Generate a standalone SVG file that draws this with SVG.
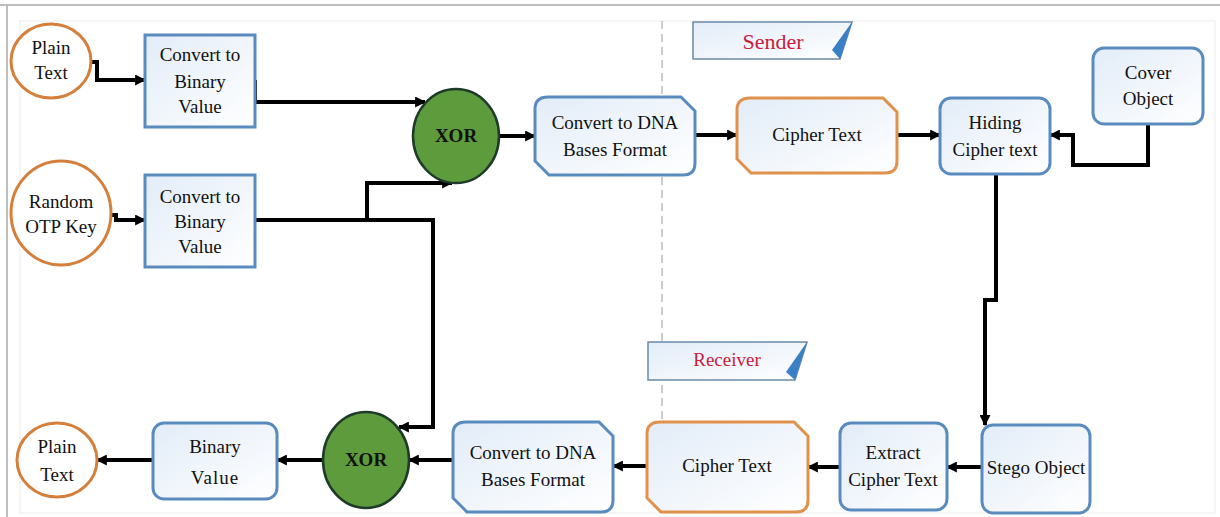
<svg xmlns="http://www.w3.org/2000/svg" width="1220" height="517" viewBox="0 0 1220 517">
<defs>
<linearGradient id="g" x1="0" y1="0" x2="1" y2="1">
<stop offset="0" stop-color="#e2ecf8"/>
<stop offset="1" stop-color="#ffffff"/>
</linearGradient>
<marker id="ah" viewBox="0 0 10 10" refX="9" refY="5" markerWidth="11" markerHeight="11" markerUnits="userSpaceOnUse" orient="auto">
<path d="M0,0 L10,5 L0,10 z" fill="#000"/>
</marker>
<style>
.t{font-family:"Liberation Serif","Times New Roman",serif;font-size:19px;fill:#111;text-anchor:middle}
.b{stroke:#5a8bbf;stroke-width:3;fill:url(#g)}
.bs{stroke:#5a8bbf;stroke-width:3;fill:url(#g)}
.o{stroke:#e0914c;stroke-width:3;fill:url(#g)}
.oc{stroke:#d4803c;stroke-width:3;fill:#fff}
.x{stroke:#1e3a28;stroke-width:2.5;fill:#5e9b3c}
.c{stroke:#000;stroke-width:4;fill:none;marker-end:url(#ah)}
.lab{font-family:"Liberation Serif","Times New Roman",serif;fill:#c8203c;text-anchor:middle}
</style>
</defs>
<rect width="1220" height="517" fill="#fff"/>
<g id="frame">
<line x1="0" y1="5" x2="1220" y2="5" stroke="#bdbdbd" stroke-width="2"/>
<line x1="7" y1="5" x2="7" y2="517" stroke="#bdbdbd" stroke-width="2"/>
<rect x="20" y="21" width="1195" height="492" fill="none" stroke="#ececec" stroke-width="1"/>
<line x1="662" y1="21" x2="662" y2="420" stroke="#9a9a9a" stroke-width="1" stroke-dasharray="8,5"/>
</g>
<g id="sender-label">
<path d="M693,22 H852 L840,59 H693 Z" fill="url(#g)" stroke="#6b8aa8" stroke-width="1.5"/>
<path d="M832,50 L852,22 L840,59 Z" fill="#3a80c6"/>
<text class="lab" x="773" y="49" font-size="22">Sender</text>
</g>
<g id="receiver-label">
<path d="M648,342 H807 L795,380 H648 Z" fill="url(#g)" stroke="#6b8aa8" stroke-width="1.5"/>
<path d="M786,372 L807,342 L795,380 Z" fill="#3a80c6"/>
<text class="lab" x="727" y="366" font-size="19">Receiver</text>
</g>
<g id="connectors">
<path class="c" d="M91,62 H97 V80 H145"/>
<path class="c" d="M111,215 H116 V220 H145"/>
<path class="c" d="M255,80 V102 H425"/>
<path class="c" d="M255,220 H433 V427 H399"/>
<path class="c" d="M367,220 V183 H452"/>
<path class="c" d="M499,136 H535"/>
<path class="c" d="M695,135 H737"/>
<path class="c" d="M897,135 H940"/>
<path class="c" d="M1148,124 V165 H1073 V135 H1050"/>
<path class="c" d="M996,174 V300 H985 V425"/>
<path class="c" d="M982,467 H947"/>
<path class="c" d="M840,467 H808"/>
<path class="c" d="M647,466 H613"/>
<path class="c" d="M453,460 H409"/>
<path class="c" d="M323,460 H277"/>
<path class="c" d="M153,460 H97"/>
</g>
<g id="plain-text-in">
<ellipse class="oc" cx="51" cy="61" rx="40" ry="37"/>
<text class="t" x="51" y="54" font-size="18">Plain</text>
<text class="t" x="51" y="79" font-size="18">Text</text>
</g>
<g id="binary1">
<rect class="b" x="145" y="35" width="110" height="92"/>
<text class="t" x="200" y="61">Convert to</text>
<text class="t" x="200" y="88">Binary</text>
<text class="t" x="200" y="113">Value</text>
</g>
<g id="otp-key">
<ellipse class="oc" cx="61" cy="213" rx="50" ry="52"/>
<text class="t" x="61" y="208">Random</text>
<text class="t" x="61" y="233">OTP Key</text>
</g>
<g id="binary2">
<rect class="b" x="145" y="175" width="110" height="92"/>
<text class="t" x="200" y="203">Convert to</text>
<text class="t" x="200" y="228">Binary</text>
<text class="t" x="200" y="253">Value</text>
</g>
<g id="xor-top">
<ellipse class="x" cx="456" cy="136" rx="43" ry="47"/>
<text class="t" x="456" y="142" font-weight="bold">XOR</text>
</g>
<g id="dna-top">
<path class="b" d="M548,97 H681 L695,111 V163 Q695,175 683,175 H549 L535,161 V109 Q535,97 548,97 Z"/>
<text class="t" x="615" y="129">Convert to DNA</text>
<text class="t" x="615" y="156">Bases Format</text>
</g>
<g id="cipher-top">
<path class="o" d="M750,98 H883 L897,112 V161 Q897,173 885,173 H751 L737,159 V110 Q737,98 750,98 Z"/>
<text class="t" x="817" y="141">Cipher Text</text>
</g>
<g id="hiding">
<rect class="b" x="940" y="98" width="110" height="76" rx="11"/>
<text class="t" x="995" y="129">Hiding</text>
<text class="t" x="995" y="156">Cipher text</text>
</g>
<g id="cover">
<rect class="b" x="1093" y="48" width="110" height="76" rx="11"/>
<text class="t" x="1148" y="79">Cover</text>
<text class="t" x="1148" y="105">Object</text>
</g>
<g id="stego">
<rect class="b" x="982" y="425" width="108" height="88" rx="11"/>
<text class="t" x="1036" y="474">Stego Object</text>
</g>
<g id="extract">
<rect class="b" x="840" y="423" width="107" height="87" rx="11"/>
<text class="t" x="893" y="459">Extract</text>
<text class="t" x="893" y="486">Cipher Text</text>
</g>
<g id="cipher-bottom">
<path class="o" d="M660,422 H794 L808,436 V500 Q808,512 796,512 H661 L647,498 V434 Q647,422 660,422 Z"/>
<text class="t" x="727" y="472">Cipher Text</text>
</g>
<g id="dna-bottom">
<path class="b" d="M466,422 H599 L613,436 V500 Q613,512 601,512 H467 L453,498 V434 Q453,422 466,422 Z"/>
<text class="t" x="533" y="459">Convert to DNA</text>
<text class="t" x="533" y="486">Bases Format</text>
</g>
<g id="xor-bottom">
<ellipse class="x" cx="366" cy="460" rx="43" ry="48"/>
<text class="t" x="366" y="466" font-weight="bold">XOR</text>
</g>
<g id="binary-value">
<rect class="b" x="153" y="423" width="124" height="76" rx="11"/>
<text class="t" x="215" y="453" font-size="23">Binary</text>
<text class="t" x="215" y="484" font-size="23" letter-spacing="1">Value</text>
</g>
<g id="plain-text-out">
<ellipse class="oc" cx="57" cy="460" rx="40" ry="37"/>
<text class="t" x="57" y="453" font-size="18">Plain</text>
<text class="t" x="57" y="481" font-size="18">Text</text>
</g>
</svg>
